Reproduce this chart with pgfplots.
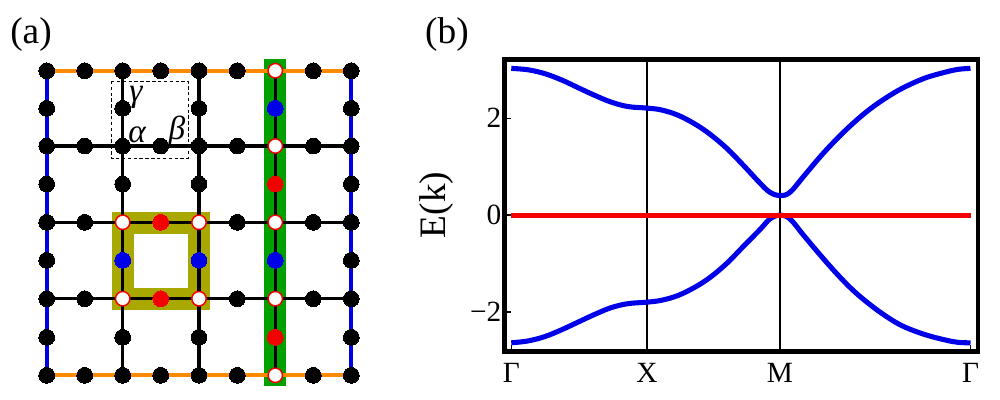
\documentclass[border=0pt]{standalone}
\usepackage{pgfplots}
\pgfplotsset{compat=1.18}
\usepackage{fontspec}
\setmainfont{Liberation Serif}
\definecolor{gorange}{HTML}{FF8A00}
\definecolor{gblue}{HTML}{0000E8}
\definecolor{golive}{HTML}{A8A800}
\definecolor{ggreen}{HTML}{00A000}
\definecolor{gred}{HTML}{F40000}
\begin{document}
\begin{tikzpicture}
\path[use as bounding box] (0,0) rectangle (750pt,300pt);
% panel (a), in picture pixels
\begin{axis}[
  at={(0pt,0pt)}, anchor=south west,
  scale only axis, width=750pt, height=300pt,
  xmin=0, xmax=1000, ymin=0, ymax=400, y dir=reverse,
  hide axis, clip=false]
\addplot[fill=ggreen, draw=none] coordinates {(264,59.3) (286,59.3) (286,385.7) (264,385.7)} -- cycle;
\addplot[fill=golive, draw=none] coordinates {(111.7,211.7) (210,211.7) (210,310) (111.7,310)} -- cycle;
\addplot[fill=white, draw=none] coordinates {(134,234) (188.3,234) (188.3,287.7) (134,287.7)} -- cycle;
% black bonds
\addplot[black, line width=2.3pt] coordinates {(122.7,70.7) (122.7,375.3)};
\addplot[black, line width=2.3pt] coordinates {(199,70.7) (199,375.3)};
\addplot[black, line width=2.3pt] coordinates {(275.3,70.7) (275.3,375.3)};
\addplot[black, line width=2.3pt] coordinates {(46.7,146) (351.3,146)};
\addplot[black, line width=2.3pt] coordinates {(46.7,222.3) (351.3,222.3)};
\addplot[black, line width=2.3pt] coordinates {(46.7,298.7) (351.3,298.7)};
% boundary bonds
\addplot[gorange, line width=3pt] coordinates {(46.7,70.7) (351.3,70.7)};
\addplot[gorange, line width=3pt] coordinates {(46.7,375.3) (351.3,375.3)};
\addplot[gblue, line width=3pt] coordinates {(46.7,70.7) (46.7,375.3)};
\addplot[gblue, line width=3pt] coordinates {(351.3,70.7) (351.3,375.3)};
% dashed unit cell
\addplot[black, line width=0.75pt, dash pattern=on 2.6pt off 1.8pt] coordinates {(111,81.3) (188.3,81.3) (188.3,158) (111,158)} -- cycle;
% sites
\addplot[only marks, mark=*, mark size=5.9pt, mark options={fill=black, draw=black, line width=0pt}] coordinates {
 (46.7,70.7) (84.7,70.7) (122.7,70.7) (160.7,70.7) (199,70.7) (237.3,70.7) (313.3,70.7) (351.3,70.7)
 (46.7,108.3) (122.7,108.3) (199,108.3) (351.3,108.3)
 (46.7,146) (84.7,146) (122.7,146) (160.7,146) (199,146) (237.3,146) (313.3,146) (351.3,146)
 (46.7,184) (122.7,184) (199,184) (351.3,184)
 (46.7,222.3) (84.7,222.3) (237.3,222.3) (313.3,222.3) (351.3,222.3)
 (46.7,260.3) (351.3,260.3)
 (46.7,298.7) (84.7,298.7) (237.3,298.7) (313.3,298.7) (351.3,298.7)
 (46.7,337.3) (122.7,337.3) (199,337.3) (351.3,337.3)
 (46.7,375.3) (84.7,375.3) (122.7,375.3) (160.7,375.3) (199,375.3) (237.3,375.3) (313.3,375.3) (351.3,375.3)
};
\addplot[only marks, mark=*, mark size=5.9pt, mark options={fill=gblue, draw=gblue, line width=0pt}] coordinates {
 (275.3,108.3) (275.3,260.3) (122.7,260.3) (199,260.3)};
\addplot[only marks, mark=*, mark size=5.9pt, mark options={fill=gred, draw=gred, line width=0pt}] coordinates {
 (275.3,184) (275.3,337.3) (160.7,222.3) (160.7,298.7)};
\addplot[only marks, mark=*, mark size=5.4pt, mark options={fill=white, draw=gred, line width=1.1pt}] coordinates {
 (275.3,70.7) (275.3,146) (275.3,222.3) (275.3,298.7) (275.3,375.3)
 (122.7,222.3) (199,222.3) (122.7,298.7) (199,298.7)};
\node[font=\fontsize{28}{28}\selectfont] at (axis cs:31,35) {(a)};
\node[font=\fontsize{28}{28}\selectfont] at (axis cs:447,35) {(b)};
\node[font=\fontsize{25}{25}\selectfont\itshape] at (axis cs:136,97) {γ};
\node[font=\fontsize{25}{25}\selectfont\itshape] at (axis cs:137,135) {α};
\node[font=\fontsize{25}{25}\selectfont\itshape] at (axis cs:177,131) {β};
\end{axis}
% panel (b)
\begin{axis}[
  at={(378.5pt,36.2pt)}, anchor=south west,
  scale only axis, width=355pt, height=219.3pt,
  xmin=504.7, xmax=978, ymin=-2.824, ymax=3.217,
  axis line style={line width=3.5pt, line cap=rect},
  xtick={511.3,647,780,970.5}, xticklabels={Γ,X,M,Γ},
  ytick={-2,0,2}, yticklabels={−2,0,2},
  tick style={black, line width=1.1pt},
  tick align=inside, major tick length=5pt,
  xtick pos=bottom, ytick pos=left,
  tick label style={font=\fontsize{22}{22}\selectfont},
  xticklabel style={yshift=-5pt},
  yticklabel style={xshift=1pt},
  ylabel={E(k)},
  ylabel style={font=\fontsize{28}{28}\selectfont, at={(axis description cs:-0.143,0.502)}, anchor=center},
  axis on top]
\addplot[black, line width=1.1pt] coordinates {(647,-2.824) (647,3.217)};
\addplot[black, line width=1.1pt] coordinates {(780,-2.824) (780,3.217)};
\addplot[gblue, line width=3.8pt, smooth, tension=0.6] coordinates {
 (511.3,3.03) (528.3,3.00) (545,2.92) (561.7,2.79) (578.3,2.63) (595,2.47) (611.7,2.33) (628.3,2.24) (647,2.21)
 (661.7,2.17) (678.3,2.06) (695,1.88) (710,1.67) (726.7,1.38) (743.3,1.03) (760,0.66) (770,0.47) (780,0.40)
 (790,0.47) (803.3,0.79) (820,1.20) (836.7,1.57) (853.3,1.90) (870,2.19) (886.7,2.43) (903.3,2.63) (925,2.83)
 (945,2.95) (958,3.01) (970.5,3.03)};
\addplot[gblue, line width=3.8pt, smooth, tension=0.6] coordinates {
 (511.3,-2.64) (528.3,-2.60) (545,-2.51) (561.7,-2.37) (578.3,-2.21) (595,-2.05) (611.7,-1.91) (628.3,-1.83) (647,-1.80)
 (661.7,-1.76) (678.3,-1.66) (695,-1.49) (710,-1.29) (726.7,-1.00) (743.3,-0.65) (760,-0.30) (770,-0.08) (780,0)
 (790,-0.08) (803.3,-0.41) (820,-0.82) (836.7,-1.21) (853.3,-1.56) (870,-1.85) (886.7,-2.10) (903.3,-2.30) (925,-2.47)
 (945,-2.58) (958,-2.63) (970.5,-2.64)};
\addplot[gred, line width=3.8pt] coordinates {(511.3,0) (970.5,0)};
\end{axis}
\end{tikzpicture}
\end{document}
